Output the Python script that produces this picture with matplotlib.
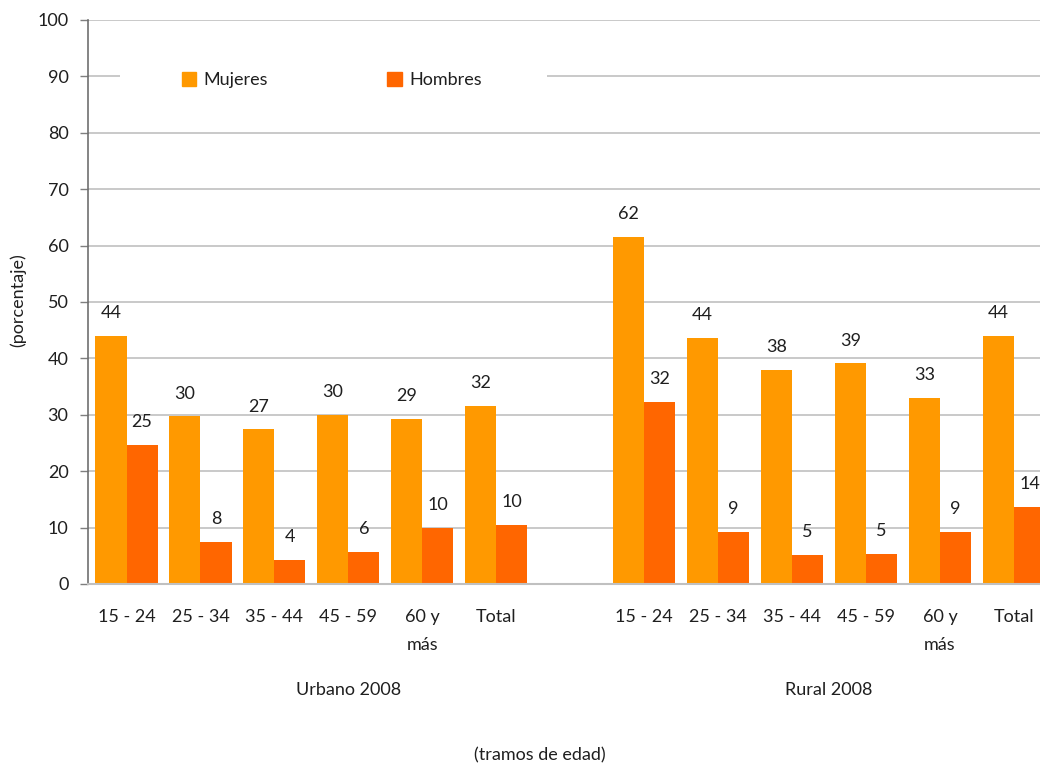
import matplotlib
matplotlib.use("Agg")
import matplotlib.pyplot as plt
from matplotlib.patches import Rectangle
import matplotlib.transforms as mtransforms

plt.rcParams['font.family'] = ['Lato', 'DejaVu Sans']

# ---- data ----
categories = ["15 - 24", "25 - 34", "35 - 44", "45 - 59", "60 y\nmás", "Total",
              "",
              "15 - 24", "25 - 34", "35 - 44", "45 - 59", "60 y\nmás", "Total"]
mujeres = [44.0, 29.7, 27.4, 30.0, 29.3, 31.6,
           None,
           61.6, 43.7, 38.0, 39.1, 33.0, 44.0]
hombres = [24.6, 7.5, 4.3, 5.7, 9.9, 10.5,
           None,
           32.3, 9.2, 5.2, 5.3, 9.2, 13.6]
mujeres_labels = ["44", "30", "27", "30", "29", "32", "",
                  "62", "44", "38", "39", "33", "44"]
hombres_labels = ["25", "8", "4", "6", "10", "10", "",
                  "32", "9", "5", "5", "9", "14"]
groups = ["Urbano 2008", "Rural 2008"]
group_centers = [3.0, 9.5]
yticks = list(range(0, 101, 10))

c_muj = "#FF9900"
c_hom = "#FF6600"
txt = "#1f1f1f"
fs = 13

W, H = 1040, 765
fig = plt.figure(figsize=(W / 100, H / 100), dpi=100)
ax = fig.add_axes([88 / W, (H - 584) / H, 966 / W, 564 / H])

bw = 0.42
for i in range(len(categories)):
    if mujeres[i] is not None:
        ax.bar(i - bw / 2, mujeres[i], width=bw, color=c_muj, zorder=2)
        ax.annotate(mujeres_labels[i], (i - bw / 2, mujeres[i]), xytext=(0, 16.5),
                    textcoords="offset points", ha="center", va="center",
                    fontsize=fs, color=txt)
    if hombres[i] is not None:
        ax.bar(i + bw / 2, hombres[i], width=bw, color=c_hom, zorder=2)
        ax.annotate(hombres_labels[i], (i + bw / 2, hombres[i]), xytext=(0, 16.5),
                    textcoords="offset points", ha="center", va="center",
                    fontsize=fs, color=txt)

pitch = 73.96  # pixels per category slot
x0 = -38.5 / pitch
ax.set_xlim(x0, x0 + 966 / pitch)
ax.set_ylim(0, 100)
ax.set_yticks(yticks)
ax.set_yticklabels([str(t) for t in yticks], fontsize=fs, color=txt)
ax.set_xticks(range(len(categories)))
ax.set_xticklabels(categories, fontsize=fs, color=txt, linespacing=1.95, va="top")
ax.tick_params(axis="x", length=0, pad=18)
ax.tick_params(axis="y", length=6, width=1, color="#7f7f7f", pad=8, direction="out")

ax.set_axisbelow(True)
ax.yaxis.grid(True, color="#c0c0c0", linewidth=1.2, zorder=0)
for s in ["top", "right"]:
    ax.spines[s].set_visible(False)
ax.spines["left"].set_color("#6f6f6f")
ax.spines["left"].set_linewidth(1.2)
ax.spines["bottom"].set_color("#c0c0c0")
ax.spines["bottom"].set_linewidth(1.5)

# group labels
trans = mtransforms.blended_transform_factory(ax.transData, ax.transAxes)
for g, c in zip(groups, group_centers):
    ax.text(c, -106 / 564, g, transform=trans, ha="center", va="center",
            fontsize=fs, color=txt)

# axis titles
fig.text(18 / W, 1 - 300 / H, "(porcentaje)", rotation=90, ha="center", va="center",
         fontsize=fs, color=txt)
fig.text(540 / W, 1 - 755 / H, "(tramos de edad)", ha="center", va="center",
         fontsize=fs, color=txt)

# legend background (white area interrupting gridline)
ax.add_patch(Rectangle(((120 - 88) / 966, (584 - 100) / 564), (547 - 120) / 966, 40 / 564,
                       transform=ax.transAxes, facecolor="white", edgecolor="none",
                       zorder=1))
h1 = Rectangle((0, 0), 1, 1, color=c_muj)
h2 = Rectangle((0, 0), 1, 1, color=c_hom)
leg = ax.legend([h1, h2], ["Mujeres", "Hombres"], ncol=2, frameon=False,
                loc="center left", bbox_to_anchor=((182 - 88) / 966, (584 - 80) / 564),
                borderpad=0, borderaxespad=0, handlelength=0.8, handleheight=0.8,
                handletextpad=0.4, columnspacing=6.6, fontsize=fs)
for t in leg.get_texts():
    t.set_color(txt)

fig.savefig("out.png", dpi=100)
